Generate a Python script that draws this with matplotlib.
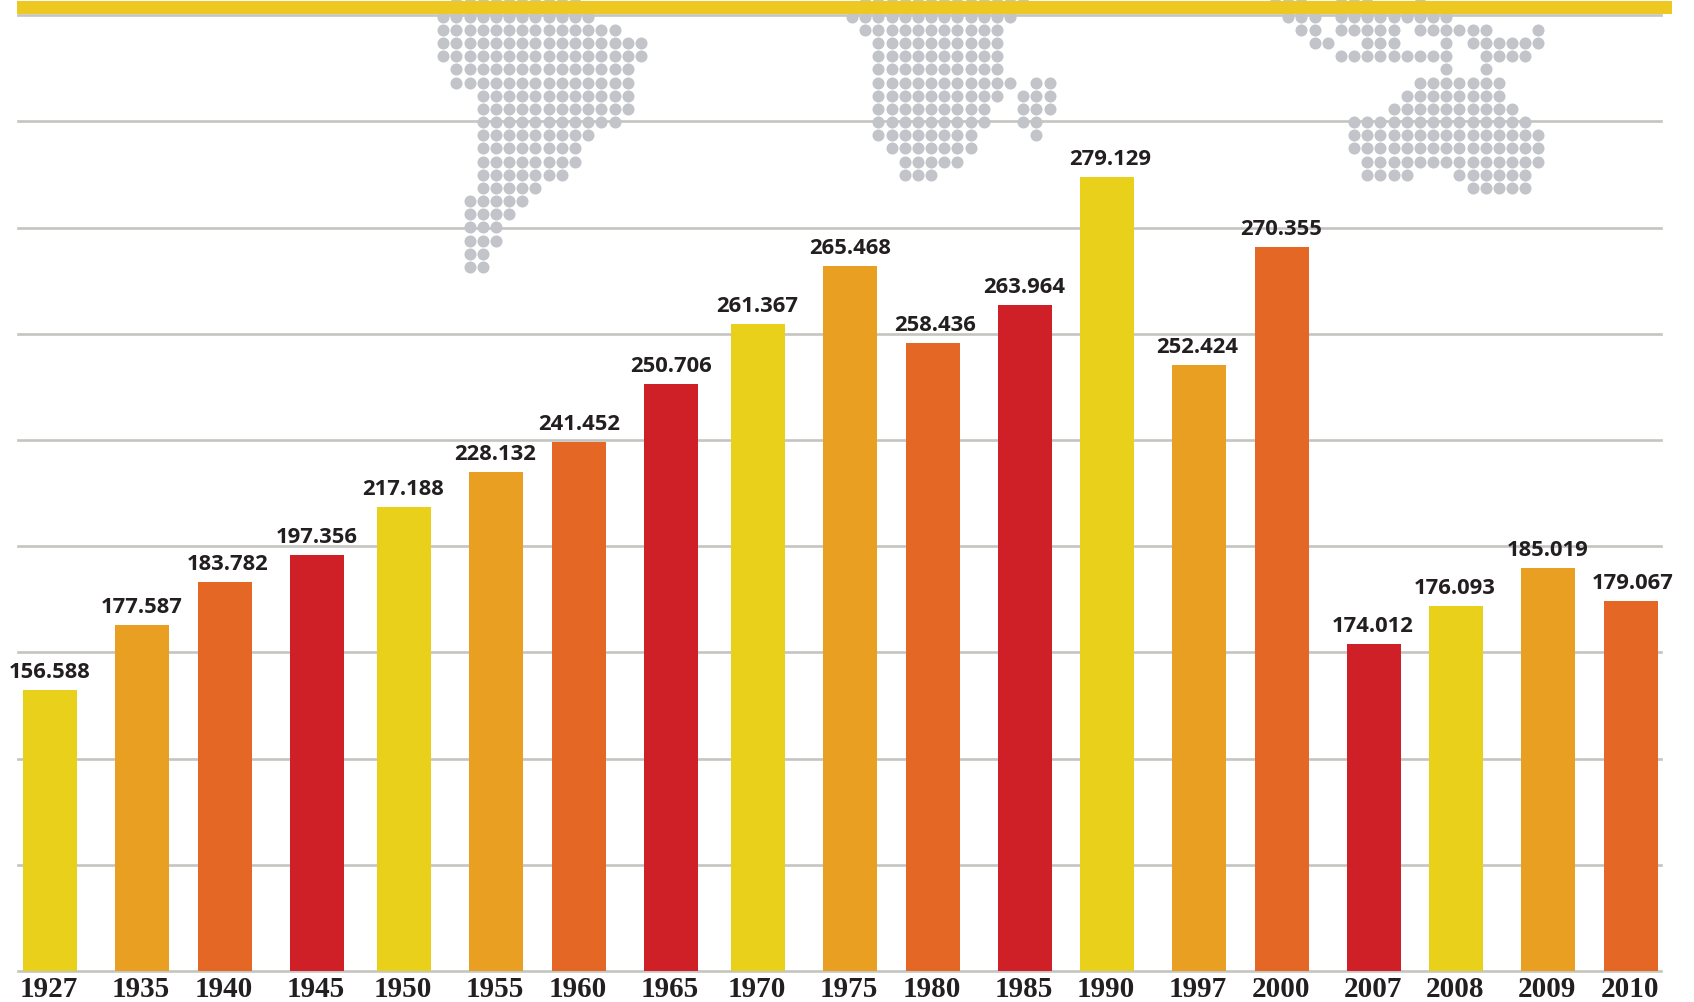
import matplotlib
matplotlib.use('Agg')
import matplotlib.pyplot as plt
from matplotlib.patches import Rectangle

years = ['1927', '1935', '1940', '1945', '1950', '1955', '1960', '1965', '1970', '1975',
         '1980', '1985', '1990', '1997', '2000', '2007', '2008', '2009', '2010']
value_labels = ['156.588', '177.587', '183.782', '197.356', '217.188', '228.132', '241.452',
                '250.706', '261.367', '265.468', '258.436', '263.964', '279.129', '252.424',
                '270.355', '174.012', '176.093', '185.019', '179.067']
# the drawn bars are not proportional to the printed numbers, so lengths are read separately
bar_lengths = [281, 346, 389, 416, 464, 499, 529, 587, 647, 705,
               628, 666, 794, 606, 724, 327, 365, 403, 370]

# layout, all in pixels of the 1694x1002 picture
bar_left = [23, 115, 198, 290, 377, 469, 552, 644, 731, 823,
            906, 998, 1080, 1172, 1255, 1347, 1429, 1521, 1604]
label_nudge = [0, 0, 3, 0, -1, -1, 0, 0, -1, 0, 2, -1, 3, -2, -1, -1, -1, 0, 2]
bar_w = 54
base_y = 971
grid_step = 106.2
colors = ['#E9D01B', '#E89F22', '#E56725', '#CF2027']

W, H = 1694, 1002

# dot maps, one string per row, row 0 sits behind the gold band
map_america = [
    ' ##########',
    '############',
    '##############',
    '################',
    '################',
    ' ##############',
    ' ##############',
    '   ############',
    '   ############',
    '   ###########',
    '   #########',
    '   ########',
    '   ########',
    '   #######',
    '   #####',
    '  #####',
    '  ####',
    '  ###',
    '  ###',
    '  ##',
    '  ##',
]
map_africa = [
    ' #############',
    '#############',
    ' ###########',
    '  ##########',
    '  ##########',
    '  ##########',
    '  ########### ##',
    '  ########## ###',
    '  #########  ###',
    '  #########  ##',
    '  ########    #',
    '   #######',
    '    #####',
    '    ###',
]
map_asia = [
    '###  ###   #',
    ' ### #########',
    '  ## ##### ######   #',
    '   ##  ###   # ######',
    '     #########  ####',
    '             #  #',
    '           #######',
    '          ########',
    '         ##########',
    '      ##############',
    '      ###############',
    '      ###############',
    '       ##############',
    '       ####   ######',
    '               #####',
]
map_origins = [(443.3, map_america), (852.0, map_africa), (1275.0, map_asia)]
dot_pitch = 13.17
dot_y0 = 3.5
top_y = base_y - 9 * grid_step

fig = plt.figure(figsize=(W / 100, H / 100), dpi=100)
ax = fig.add_axes([18 / W, (H - base_y) / H, (1661 - 18) / W, (base_y - top_y) / H])
ax.set_xlim(18, 1661)
ax.set_ylim(0, base_y - top_y)

for x0, rows in map_origins:
    xs, ys = [], []
    for r, row in enumerate(rows):
        for c, ch in enumerate(row):
            if ch == '#':
                xs.append(x0 + c * dot_pitch)
                ys.append(base_y - (dot_y0 + r * dot_pitch))
    ax.scatter(xs, ys, s=75, color='#C2C4C9', linewidths=0, clip_on=False, zorder=1)

ax.set_yticks([k * grid_step for k in range(10)])
ax.tick_params(axis='y', left=False, labelleft=False)
ax.tick_params(axis='x', bottom=False, pad=0.3)
ax.grid(axis='y', color='#C4C4C0', linewidth=1.9, zorder=0)
for line in ax.get_ygridlines():
    line.set_clip_on(False)
ax.set_axisbelow(True)
for s in ax.spines.values():
    s.set_visible(False)

centers = [x + bar_w / 2 for x in bar_left]
bar_colors = [colors[i % 4] for i in range(len(years))]
ax.bar(centers, bar_lengths, width=bar_w, color=bar_colors, linewidth=0, zorder=3)

for cx, dx, h, txt in zip(centers, label_nudge, bar_lengths, value_labels):
    ax.text(cx + dx, h + 12, txt, ha='center', va='baseline', fontsize=15.8, fontweight='bold',
            family='Open Sans', color='#231F20', zorder=4)

# year labels sit a little left of the bar centres in the original
ax.set_xticks([c - 1.5 for c in centers])
ax.set_xticklabels(years, fontsize=21, fontweight='bold', family='Liberation Serif', color='#231F20')

# gold band across the top
fig.add_artist(Rectangle((17 / W, (H - 14) / H), (1672 - 17) / W, 13 / H, transform=fig.transFigure,
                         facecolor='#ECC820', edgecolor='none', zorder=5))

fig.savefig('out.png', dpi=100)
